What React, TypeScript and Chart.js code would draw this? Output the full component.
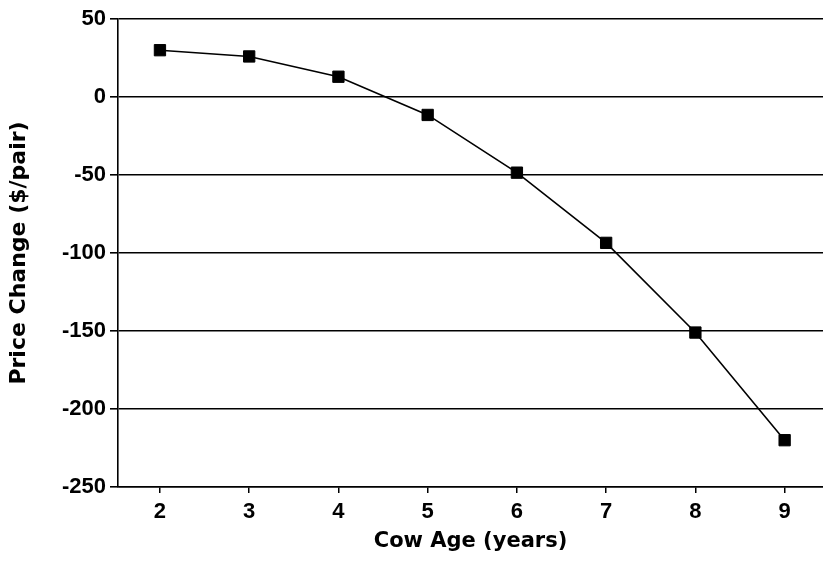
import React, { useEffect, useRef } from "react";
import { Chart, registerables } from "chart.js";

Chart.register(...registerables);

const ages = [2, 3, 4, 5, 6, 7, 8, 9];
const priceChange = [30, 26, 13, -11.5, -48.5, -93.5, -151, -220];
const xTickValues = [2, 3, 4, 5, 6, 7, 8, 9];
const yTickValues = [50, 0, -50, -100, -150, -200, -250];
const xTitle = "Cow Age (years)";
const yTitle = "Price Change ($/pair)";

export default function App() {
  const ref = useRef<HTMLCanvasElement | null>(null);

  useEffect(() => {
    if (!ref.current) return;
    const chart = new Chart(ref.current, {
      type: "line",
      data: {
        datasets: [
          {
            data: ages.map((a, i) => ({ x: a, y: priceChange[i] })),
            borderColor: "#000",
            borderWidth: 1.6,
            backgroundColor: "#000",
            pointStyle: "rect",
            pointRadius: 8,
            pointBorderWidth: 1,
            pointBackgroundColor: "#000",
            pointBorderColor: "#000",
            tension: 0,
            fill: false,
            clip: false,
          },
        ],
      },
      options: {
        responsive: false,
        animation: false,
        layout: { autoPadding: false, padding: { top: 19, left: 0, right: 0, bottom: 0 } },
        plugins: { legend: { display: false }, tooltip: { enabled: false } },
        scales: {
          x: {
            type: "linear",
            min: 1.53,
            max: 9.43,
            afterBuildTicks: (s: any) => {
              s.ticks = xTickValues.map((v) => ({ value: v }));
            },
            afterFit: (s: any) => {
              s.height = 74;
              s.paddingLeft = 0;
              s.paddingRight = 0;
            },
            grid: {
              drawOnChartArea: false,
              drawTicks: true,
              tickLength: 6,
              color: "#000",
              lineWidth: 1.5,
            },
            border: { display: true, color: "#000", width: 1.5 },
            ticks: {
              color: "#000",
              padding: 6,
              font: { family: "'Liberation Sans', Arial", size: 22, weight: "bold" },
            },
            title: {
              display: true,
              text: xTitle,
              color: "#000",
              padding: { top: 0, bottom: 7 },
              font: { family: "'DejaVu Sans'", size: 21, weight: "bold" },
            },
          },
          y: {
            type: "linear",
            min: -250,
            max: 50,
            afterBuildTicks: (s: any) => {
              s.ticks = yTickValues.map((v) => ({ value: v }));
            },
            afterFit: (s: any) => {
              s.width = 118;
              s.paddingTop = 0;
              s.paddingBottom = 0;
            },
            grid: {
              drawTicks: true,
              tickLength: 8,
              color: "#000",
              lineWidth: 1.6,
            },
            border: { display: true, color: "#000", width: 1.6 },
            ticks: {
              color: "#000",
              padding: 4,
              font: { family: "'Liberation Sans', Arial", size: 22, weight: "bold" },
            },
            title: {
              display: true,
              text: yTitle,
              color: "#000",
              padding: { top: 6, bottom: 0 },
              font: { family: "'DejaVu Sans'", size: 22, weight: "bold" },
            },
          },
        },
      },
    });
    return () => chart.destroy();
  }, []);

  return (
    <div style={{ position: "fixed", left: 0, top: 0, width: 823, height: 561, background: "#fff" }}>
      <canvas ref={ref} width={823} height={561} style={{ width: 823, height: 561 }} />
    </div>
  );
}
